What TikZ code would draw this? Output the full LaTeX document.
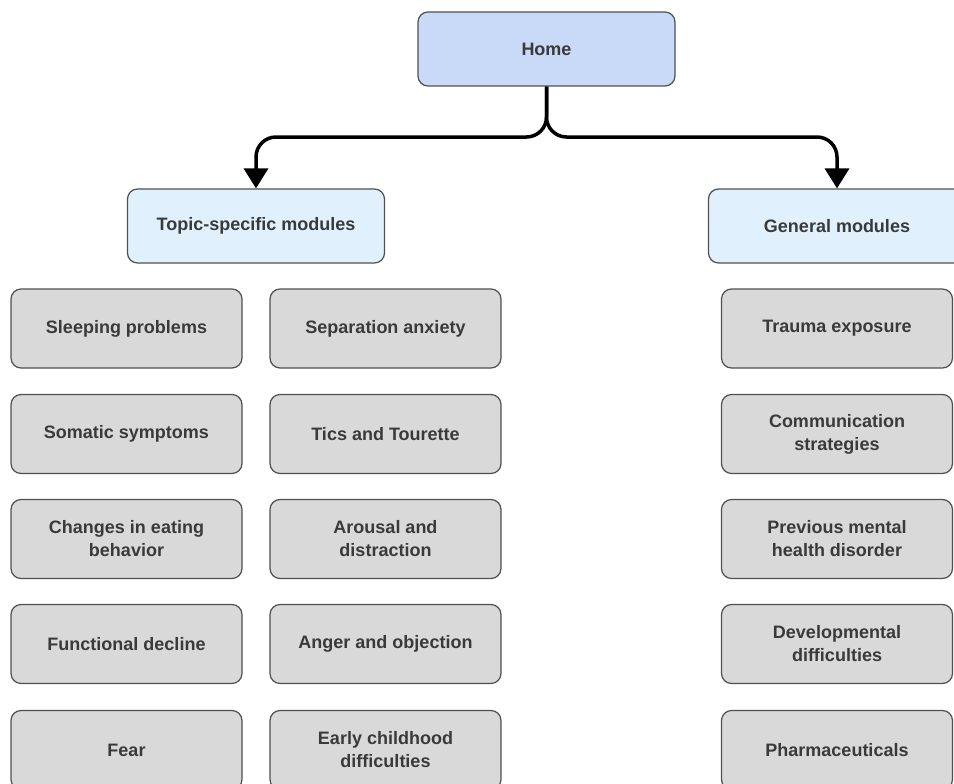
\documentclass[tikz,border=0pt]{standalone}
\usepackage{fontspec}
\setmainfont{Liberation Sans}
\usetikzlibrary{arrows.meta}
\definecolor{homefill}{HTML}{C9DAF8}
\definecolor{catfill}{HTML}{E0F1FD}
\definecolor{itemfill}{HTML}{D9D9D9}
\definecolor{bordercol}{HTML}{505050}
\definecolor{textcol}{HTML}{3A3A3A}
\tikzset{
  box/.style={draw=bordercol, line width=1.2pt, rounded corners=10pt, align=center,
    font=\bfseries\fontsize{18}{23}\selectfont, text=textcol, inner sep=0pt},
  homebox/.style={box, fill=homefill, minimum width=257pt, minimum height=74pt},
  catbox/.style={box, fill=catfill, minimum width=257pt, minimum height=74pt},
  itembox/.style={box, fill=itemfill, minimum width=231pt, minimum height=79pt},
  conn/.style={line width=3.5pt, rounded corners=20pt, -{Triangle[width=24pt,length=20pt]}}
}
\begin{document}
\begin{tikzpicture}[x=1pt,y=-1pt]
\useasboundingbox (0,0) rectangle (954,784);
\clip (0,0) rectangle (954,784);
\node[homebox] (home) at (546.5,49) {Home};
\node[catbox] (topic) at (256,226) {Topic-specific modules};
\node[catbox] (general) at (837,226) {General modules};
% left column
\node[itembox] (a1) at (126.5,328.5) {Sleeping problems};
\node[itembox] (a2) at (126.5,434) {Somatic symptoms};
\node[itembox] (a3) at (126.5,539) {Changes in eating\\behavior};
\node[itembox] (a4) at (126.5,644) {Functional decline};
\node[itembox] (a5) at (126.5,750) {Fear};
% middle column
\node[itembox] (b1) at (385.5,328.5) {Separation anxiety};
\node[itembox] (b2) at (385.5,434) {Tics and Tourette};
\node[itembox] (b3) at (385.5,539) {Arousal and\\distraction};
\node[itembox] (b4) at (385.5,644) {Anger and objection};
\node[itembox] (b5) at (385.5,750) {Early childhood\\difficulties};
% right column
\node[itembox] (c1) at (837,328.5) {Trauma exposure};
\node[itembox] (c2) at (837,434) {Communication\\strategies};
\node[itembox] (c3) at (837,539) {Previous mental\\health disorder};
\node[itembox] (c4) at (837,644) {Developmental\\difficulties};
\node[itembox] (c5) at (837,750) {Pharmaceuticals};
% connectors
\draw[conn] (home.south) -- (home.south |- 0,137) -- (topic.north |- 0,137) -- (topic.north);
\draw[conn] (home.south) -- (home.south |- 0,137) -- (general.north |- 0,137) -- (general.north);
\end{tikzpicture}
\end{document}
